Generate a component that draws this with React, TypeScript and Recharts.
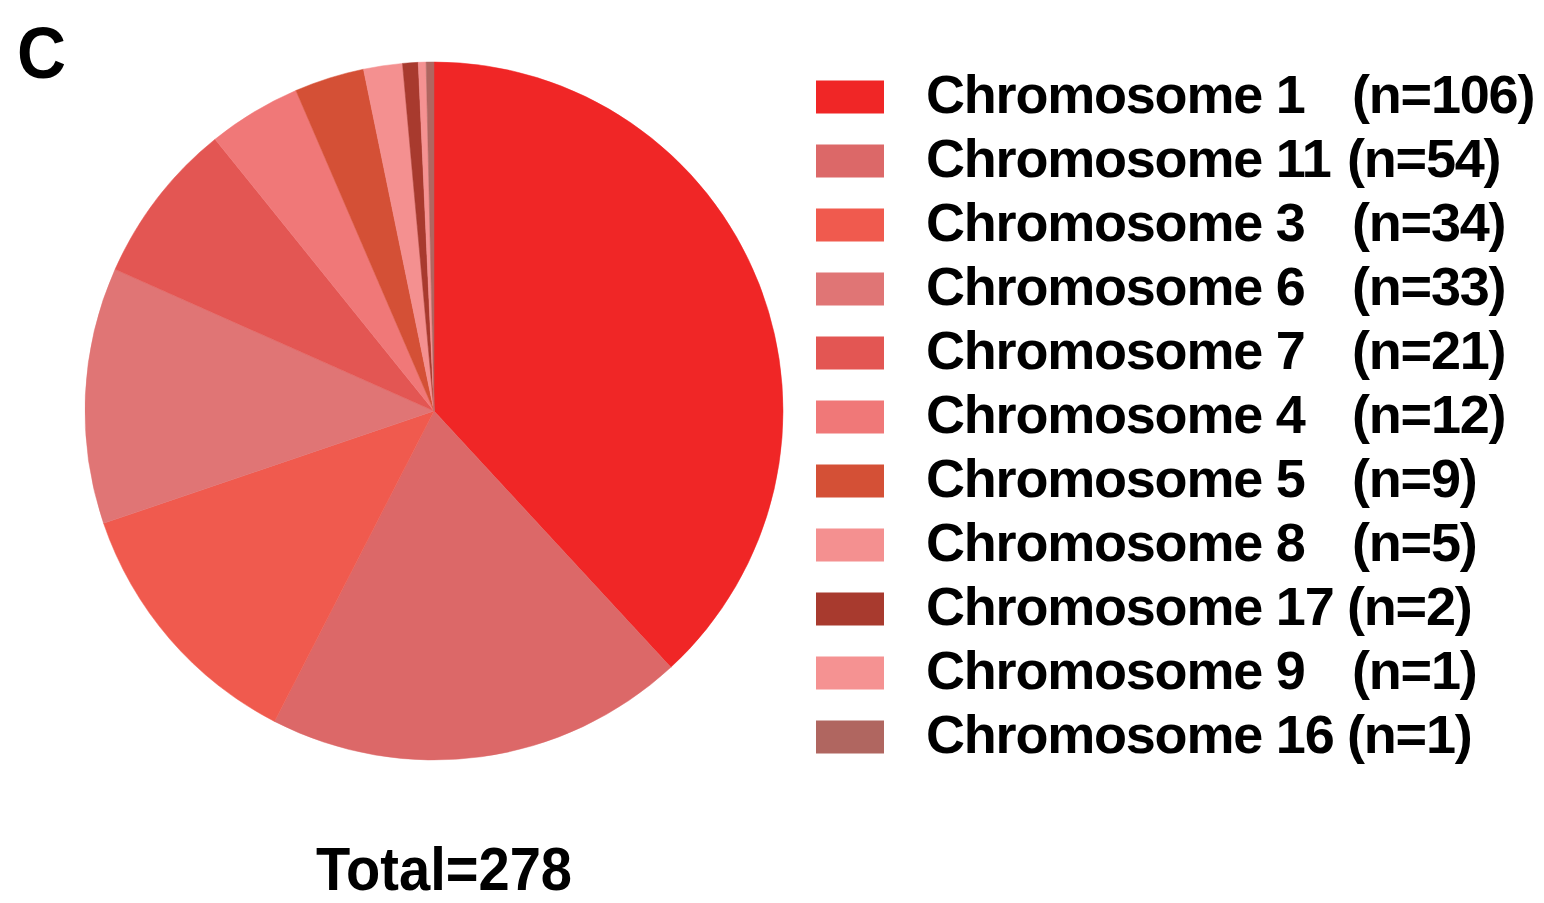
import { PieChart, Pie, Cell } from 'recharts';

const names = [
  'Chromosome 1', 'Chromosome 11', 'Chromosome 3', 'Chromosome 6', 'Chromosome 7', 'Chromosome 4',
  'Chromosome 5', 'Chromosome 8', 'Chromosome 17', 'Chromosome 9', 'Chromosome 16'
];
const counts = [106, 54, 34, 33, 21, 12, 9, 5, 2, 1, 1];
const colors = [
  '#f02626', '#dc6868', '#f05a4e', '#e07575', '#e35653', '#f07878',
  '#d45036', '#f49090', '#a83a2e', '#f59292', '#b06660'
];

const data = names.map((name, i) => ({ name, value: counts[i] }));
const total = counts.reduce((a, b) => a + b, 0);

const FONT = "'Liberation Sans', Arial, Helvetica, sans-serif";

export default function App() {
  return (
    <div style={{ position: 'absolute', left: 0, top: 0, width: 1544, height: 903, background: '#fff' }}>
      <PieChart width={1544} height={903} margin={{ top: 0, right: 0, bottom: 0, left: 0 }}>
        <Pie
          data={data}
          dataKey="value"
          nameKey="name"
          cx={434}
          cy={411}
          outerRadius={349}
          startAngle={90}
          endAngle={-270}
          isAnimationActive={false}
          label={false}
          labelLine={false}
        >
          {data.map((d, i) => (
            <Cell key={d.name} fill={colors[i]} stroke={colors[i]} strokeWidth={0.5} />
          ))}
        </Pie>
      </PieChart>

      {/* panel letter, legend and total */}
      <svg width={1544} height={903} style={{ position: 'absolute', left: 0, top: 0, pointerEvents: 'none' }}>
        <text x={17} y={78} fontFamily={FONT} fontWeight="bold" fontSize={72} fill="#000" textLength={49} lengthAdjust="spacingAndGlyphs">C</text>
        {names.map((name, i) => {
          const cy = 97 + i * 64;
          const long = name.length > 12;
          return (
            <g key={name}>
              <rect x={816} y={cy - 16.5} width={68} height={33} fill={colors[i]} />
              <text x={926} y={cy + 16} fontFamily={FONT} fontWeight="bold" fontSize={54} letterSpacing={-1.2} fill="#000">{name}</text>
              <text x={long ? 1347 : 1352} y={cy + 16} fontFamily={FONT} fontWeight="bold" fontSize={54} letterSpacing={-1.2} fill="#000">{`(n=${counts[i]})`}</text>
            </g>
          );
        })}
        <text x={316} y={890} fontFamily={FONT} fontWeight="bold" fontSize={61} fill="#000" textLength={256} lengthAdjust="spacingAndGlyphs">{`Total=${total}`}</text>
      </svg>
    </div>
  );
}
